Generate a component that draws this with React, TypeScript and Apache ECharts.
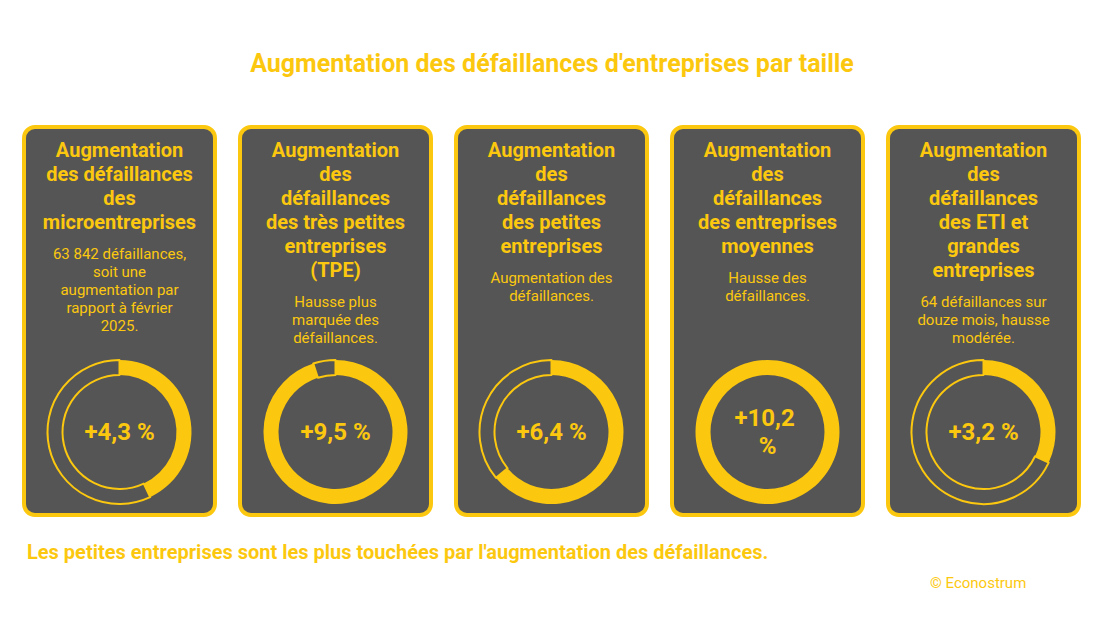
import React, { useEffect, useRef } from "react";
import * as echarts from "echarts";

const chartTitle = "Augmentation des défaillances d'entreprises par taille";
const footnote = "Les petites entreprises sont les plus touchées par l'augmentation des défaillances.";
const credit = "© Econostrum";

const cardTitles = [
  "Augmentation\ndes défaillances\ndes\nmicroentreprises",
  "Augmentation\ndes\ndéfaillances\ndes très petites\nentreprises\n(TPE)",
  "Augmentation\ndes\ndéfaillances\ndes petites\nentreprises",
  "Augmentation\ndes\ndéfaillances\ndes entreprises\nmoyennes",
  "Augmentation\ndes\ndéfaillances\ndes ETI et\ngrandes\nentreprises",
];
const cardNotes = [
  "63 842 défaillances,\nsoit une\naugmentation par\nrapport à février\n2025.",
  "Hausse plus\nmarquée des\ndéfaillances.",
  "Augmentation des\ndéfaillances.",
  "Hausse des\ndéfaillances.",
  "64 défaillances sur\ndouze mois, hausse\nmodérée.",
];
const growthValues = [4.3, 9.5, 6.4, 10.2, 3.2];
const ringMax = 10;

const YELLOW = "#FCC80F";
const DARK = "#555555";
const FONT = "Roboto, 'Noto Sans', sans-serif";

export default function App() {
  const ref = useRef<HTMLDivElement>(null);
  useEffect(() => {
    if (!ref.current) return;
    const chart = echarts.init(ref.current, null, { renderer: "svg" });

    const cardW = 195;
    const cardH = 392;
    const cardTop = 125;
    const firstLeft = 22;
    const step = 216;
    const ringY = 432;

    const graphics: any[] = [];
    const series: any[] = [];

    growthValues.forEach((v, i) => {
      const left = firstLeft + i * step;
      const cx = left + cardW / 2;
      graphics.push({
        type: "rect",
        z: 0,
        shape: { x: left + 2, y: cardTop + 2, width: cardW - 4, height: cardH - 4, r: 11 },
        style: { fill: DARK, stroke: YELLOW, lineWidth: 4 },
      });
      const titleLines = cardTitles[i].split("\n").length;
      const titleTop = 138;
      graphics.push({
        type: "text",
        z: 10,
        x: cx,
        y: titleTop,
        style: {
          text: cardTitles[i],
          fill: YELLOW,
          fontFamily: FONT,
          fontWeight: "bold",
          fontSize: 20,
          lineHeight: 24,
          align: "center",
          verticalAlign: "top",
        },
      });
      graphics.push({
        type: "text",
        z: 10,
        x: cx,
        y: titleTop + titleLines * 24 + 11,
        style: {
          text: cardNotes[i],
          fill: YELLOW,
          fontFamily: FONT,
          fontSize: 15,
          lineHeight: 18,
          align: "center",
          verticalAlign: "top",
        },
      });
      const label = "+" + v.toFixed(1).replace(".", ",") + " %";
      graphics.push({
        type: "text",
        z: 10,
        x: cx,
        y: ringY,
        style: {
          text: label,
          width: 80,
          overflow: "break",
          fill: YELLOW,
          fontFamily: FONT,
          fontWeight: "bold",
          fontSize: 24,
          lineHeight: 28,
          align: "center",
          verticalAlign: "middle",
        },
      });
      const filled = Math.min(v, ringMax);
      const rest = Math.max(ringMax - v, 0);
      const data: any[] = [
        { value: filled, itemStyle: { color: YELLOW, borderWidth: 0 } },
      ];
      if (rest > 0) {
        data.push({
          value: rest,
          itemStyle: { color: "rgba(0,0,0,0)", borderColor: YELLOW, borderWidth: 2 },
        });
      }
      series.push({
        type: "pie",
        center: [cx, ringY],
        radius: [57, 72],
        startAngle: 90,
        clockwise: true,
        silent: true,
        label: { show: false },
        labelLine: { show: false },
        emphasis: { disabled: true },
        data,
        z: 5,
      });
    });

    graphics.push({
      type: "text",
      z: 10,
      x: 552,
      y: 63,
      style: {
        text: chartTitle,
        fill: YELLOW,
        fontFamily: FONT,
        fontWeight: "bold",
        fontSize: 25,
        align: "center",
        verticalAlign: "middle",
      },
    });
    graphics.push({
      type: "text",
      z: 10,
      x: 27,
      y: 552,
      style: {
        text: footnote,
        fill: YELLOW,
        fontFamily: FONT,
        fontWeight: "bold",
        fontSize: 20,
        align: "left",
        verticalAlign: "middle",
      },
    });
    graphics.push({
      type: "text",
      z: 10,
      x: 930,
      y: 583,
      style: {
        text: credit,
        fill: YELLOW,
        fontFamily: FONT,
        fontSize: 15,
        align: "left",
        verticalAlign: "middle",
      },
    });

    chart.setOption({
      animation: false,
      backgroundColor: "#ffffff",
      graphic: { elements: graphics },
      series,
    });
    return () => chart.dispose();
  }, []);
  return (
    <div
      ref={ref}
      style={{ position: "fixed", left: 0, top: 0, width: 1104, height: 640 }}
    />
  );
}
